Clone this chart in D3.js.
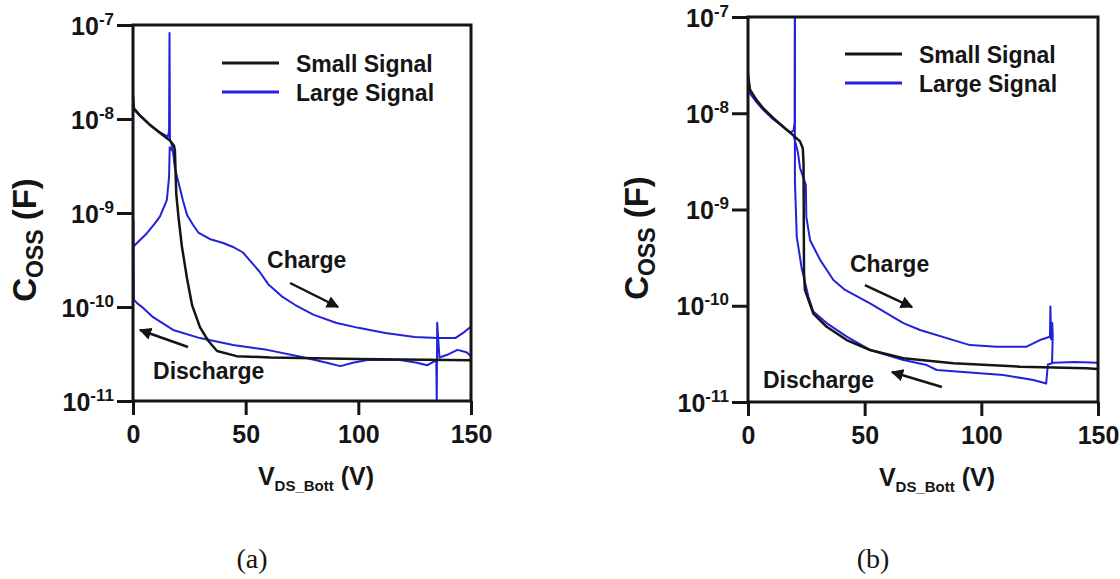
<!DOCTYPE html>
<html>
<head>
<meta charset="utf-8">
<script src="https://cdn.jsdelivr.net/npm/d3@7"></script>
<style>
  body { margin: 0; background: #fff; }
  svg text { font-family: "Liberation Sans", Arial, Helvetica, sans-serif; font-weight: bold; fill: #151515; }
  svg text.caption { font-family: "Liberation Serif", "Times New Roman", serif; font-weight: normal; }
</style>
</head>
<body>
<div id="chart"></div>
<script>
// axis ticks shared by both panels
const xTicks = [0, 50, 100, 150];
const yTicks = [1e-11, 1e-10, 1e-9, 1e-8, 1e-7];
const yTickExp = ["-11", "-10", "-9", "-8", "-7"];
const legendLabels = ["Small Signal", "Large Signal"];

// ---- panel (a) : [V_DS, Coss] ----
const smallA = [[0, 1.8e-8], [0.4, 1.3e-8], [3, 1.1e-8], [7.5, 8.7e-9], [12, 7.1e-9], [16.4, 5.9e-9],
  [18.2, 5.2e-9], [18.6, 4.6e-9], [19.2, 1.6e-9], [20.2, 9e-10], [21.7, 4.4e-10], [24, 2e-10],
  [26.2, 1.05e-10], [29.7, 6.1e-11], [33.3, 4.4e-11], [37.3, 3.4e-11], [46, 3.0e-11], [61, 2.9e-11],
  [100, 2.8e-11], [150, 2.72e-11]];
const largeTopA = [[0, 1.5e-8], [0.5, 1.25e-8], [3, 1.08e-8], [7.5, 8.6e-9], [12, 7.2e-9], [15.5, 6.5e-9],
  [16, 7.5e-9], [16.2, 8.2e-8], [16.4, 6e-9], [17, 5.5e-9], [18, 4.2e-9], [18.5, 3.3e-9]];
const chargeA = [[0, 4.35e-10], [6.2, 6.1e-10], [9.8, 7.8e-10], [12, 9.2e-10], [15, 1.37e-9], [16, 2.4e-9],
  [16.3, 5e-9], [17.8, 4.5e-9], [18.6, 3e-9], [20, 2.2e-9], [22.2, 1.35e-9], [24, 9.5e-10], [26.6, 7.5e-10],
  [29, 6.2e-10], [34, 5.3e-10], [40, 4.8e-10], [44.4, 4.35e-10], [48.8, 3.8e-10], [52, 3.1e-10],
  [56, 2.4e-10], [60, 1.75e-10], [66, 1.3e-10], [72, 1.05e-10], [80, 8.3e-11], [90, 6.8e-11],
  [100, 6e-11], [112, 5.3e-11], [125, 4.8e-11], [135, 4.67e-11], [143, 4.67e-11], [146.5, 5.3e-11],
  [150, 6.2e-11]];
const dischargeA = [[150, 3.0e-11], [148, 3.3e-11], [144, 3.5e-11], [139.4, 3.1e-11], [136, 2.9e-11],
  [135, 6.8e-11], [134.8, 1e-11], [134.6, 2.7e-11], [130.5, 2.4e-11], [126, 2.55e-11], [118.5, 2.73e-11],
  [104, 2.73e-11], [97.6, 2.55e-11], [92, 2.35e-11], [86, 2.55e-11], [75, 2.94e-11], [59.5, 3.5e-11],
  [44.4, 3.95e-11], [29.7, 4.67e-11], [17.8, 5.7e-11], [8.9, 7.8e-11], [4.4, 9.8e-11], [1.8, 1.1e-10],
  [0.4, 1.2e-10], [0.2, 8.4e-10], [0.1, 4.35e-10]];

// ---- panel (b) ----
const smallB = [[0, 2.6e-8], [0.3, 2.2e-8], [0.9, 1.75e-8], [3.7, 1.37e-8], [6.6, 1.12e-8], [10.9, 8.9e-9],
  [15.1, 7.25e-9], [19.4, 5.9e-9], [22.3, 5.1e-9], [23.5, 4.3e-9], [23.8, 3e-9], [24, 2.2e-10],
  [24.4, 1.46e-10], [25.9, 1.15e-10], [28, 8.3e-11], [33.7, 6.05e-11], [42.3, 4.4e-11], [52.3, 3.47e-11],
  [66.6, 2.85e-11], [88, 2.52e-11], [116.6, 2.33e-11], [145, 2.24e-11], [150, 2.2e-11]];
const largeTopB = [[0, 1.75e-8], [0.9, 1.6e-8], [3.7, 1.3e-8], [6.6, 1.08e-8], [10.9, 8.6e-9], [15.1, 7.2e-9],
  [18, 6.3e-9], [19.5, 6.6e-9], [20, 8e-9], [20.1, 1.2e-7]];
const chargeB = [[19.5, 6e-9], [20.3, 5e-9], [21.4, 3.9e-9], [22.3, 2.7e-9], [24.8, 1.8e-9], [25, 8.4e-10],
  [26.6, 4.8e-10], [30.9, 3e-10], [36.6, 1.85e-10], [41.6, 1.46e-10], [52.3, 1.06e-10], [66.6, 6.6e-11],
  [73.7, 5.6e-11], [95.1, 3.9e-11], [106.6, 3.76e-11], [119.4, 3.76e-11], [125.1, 4.4e-11],
  [129.4, 4.77e-11], [129.6, 9.8e-11], [129.9, 4.5e-11], [130.4, 6.6e-11], [130.6, 4.9e-11],
  [130.3, 2.5e-11]];
const dischargeB = [[150, 2.55e-11], [140, 2.6e-11], [131, 2.55e-11], [128.5, 2.45e-11], [127.8, 1.56e-11],
  [122.3, 1.69e-11], [109.4, 1.91e-11], [95.1, 2.02e-11], [80.9, 2.15e-11], [76.6, 2.42e-11],
  [66.6, 2.73e-11], [52.3, 3.47e-11], [42.3, 4.77e-11], [33.7, 6.6e-11], [28, 8.7e-11], [25.9, 1.24e-10],
  [23, 2.45e-10], [20.9, 5.2e-10], [20.1, 2e-9], [20.1, 1.2e-7]];

const blue = "#2222dd",
    ink = "#151515";

let svg = d3.select("#chart")
    .append("svg")
    .attr("width", 1120)
    .attr("height", 579);

let defs = svg.append("defs");
defs.append("marker")
    .attr("id", "arrow")
    .attr("viewBox", "0 0 10 10")
    .attr("refX", 9).attr("refY", 5)
    .attr("markerWidth", 5).attr("markerHeight", 5)
    .attr("orient", "auto")
    .append("path")
    .attr("d", "M0,0 L10,5 L0,10 z")
    .attr("fill", ink);

function drawPanel(p) {
    let x = d3.scaleLinear().domain([0, 150]).range([p.left, p.right]);
    let y = d3.scaleLog().domain([1e-11, 1e-7]).range([p.bottom, p.top]);
    let g = svg.append("g");

    defs.append("clipPath").attr("id", "clip" + p.id)
        .append("rect")
        .attr("x", p.left).attr("y", p.top)
        .attr("width", p.right - p.left).attr("height", p.bottom - p.top);

    let line = d3.line().x(d => x(d[0])).y(d => y(d[1]));
    let plot = g.append("g").attr("clip-path", "url(#clip" + p.id + ")");

    // blue first, black on top
    p.large.forEach(s => {
        plot.append("path").datum(s)
            .attr("d", line)
            .attr("fill", "none")
            .attr("stroke", blue)
            .attr("stroke-width", 2)
            .attr("stroke-linejoin", "round");
    });
    plot.append("path").datum(p.small)
        .attr("d", line)
        .attr("fill", "none")
        .attr("stroke", ink)
        .attr("stroke-width", 2.5)
        .attr("stroke-linejoin", "round");

    // frame
    g.append("rect")
        .attr("x", p.left).attr("y", p.top)
        .attr("width", p.right - p.left).attr("height", p.bottom - p.top)
        .attr("fill", "none")
        .attr("stroke", ink)
        .attr("stroke-width", 3);

    // y axis
    let yAxis = g.append("g")
        .attr("transform", "translate(" + p.left + ",0)")
        .call(d3.axisLeft(y).tickValues(yTicks).tickSize(16).tickFormat(""));
    yAxis.select(".domain").remove();
    yAxis.selectAll(".tick line").attr("stroke", ink).attr("stroke-width", 3);
    yAxis.selectAll(".tick text").remove();
    let yl = yAxis.selectAll(".tick").append("text")
        .attr("x", -19).attr("y", 9)
        .attr("text-anchor", "end");
    yl.append("tspan").attr("font-size", 25).text("10");
    yl.append("tspan").attr("font-size", 17).attr("dy", -10)
        .text((d, i) => yTickExp[i]);

    // x axis
    let xAxis = g.append("g")
        .attr("transform", "translate(0," + p.bottom + ")")
        .call(d3.axisBottom(x).tickValues(xTicks).tickSize(14).tickFormat(""));
    xAxis.select(".domain").remove();
    xAxis.selectAll(".tick line").attr("stroke", ink).attr("stroke-width", 3);
    xAxis.selectAll(".tick text").remove();
    xAxis.selectAll(".tick").append("text")
        .attr("y", 42)
        .attr("text-anchor", "middle")
        .attr("font-size", 25)
        .text(d => d);

    // axis titles
    let xt = g.append("text")
        .attr("x", (p.left + p.right) / 2 + 14)
        .attr("y", p.bottom + 84)
        .attr("text-anchor", "middle");
    xt.append("tspan").attr("font-size", 25).text("V");
    xt.append("tspan").attr("font-size", 15).attr("dy", 6).text("DS_Bott");
    xt.append("tspan").attr("font-size", 25).attr("dy", -6).text(" (V)");

    let yt = g.append("text")
        .attr("transform", "translate(" + p.ytX + "," + p.ytY + ") rotate(-90)")
        .attr("text-anchor", "middle");
    yt.append("tspan").attr("font-size", 33).text("C");
    yt.append("tspan").attr("font-size", 23).attr("dy", 7).text("OSS");
    yt.append("tspan").attr("font-size", 33).attr("dy", -7).text(" (F)");

    // legend
    [ink, blue].forEach((c, i) => {
        g.append("line")
            .attr("x1", p.left + p.legX).attr("x2", p.left + p.legX + 57)
            .attr("y1", p.top + p.legY + i * 29).attr("y2", p.top + p.legY + i * 29)
            .attr("stroke", c)
            .attr("stroke-width", 3);
        g.append("text")
            .attr("x", p.left + p.legX + 74)
            .attr("y", p.top + p.legY + 9 + i * 29)
            .attr("font-size", 23)
            .text(legendLabels[i]);
    });

    // annotations (data coordinates)
    p.notes.forEach(n => {
        g.append("text")
            .attr("x", x(n.at[0])).attr("y", y(n.at[1]))
            .attr("font-size", 23)
            .text(n.text);
        g.append("line")
            .attr("x1", x(n.from[0])).attr("y1", y(n.from[1]))
            .attr("x2", x(n.to[0])).attr("y2", y(n.to[1]))
            .attr("stroke", ink)
            .attr("stroke-width", 2.5)
            .attr("marker-end", "url(#arrow)");
    });

    svg.append("text")
        .attr("class", "caption")
        .attr("x", p.capX).attr("y", 568)
        .attr("text-anchor", "middle")
        .attr("font-size", 28)
        .text(p.caption);
}

drawPanel({
    id: "a", left: 133, right: 471, top: 25, bottom: 401,
    small: smallA, large: [chargeA, dischargeA, largeTopA],
    ytX: 36, ytY: 240, legX: 89, legY: 38,
    notes: [
        { text: "Charge", at: [59.5, 2.6e-10], from: [69.7, 1.8e-10], to: [91, 1e-10] },
        { text: "Discharge", at: [8.9, 1.71e-11], from: [24.4, 3.75e-11], to: [3.1, 5.7e-11] }
    ],
    caption: "(a)", capX: 252
});

drawPanel({
    id: "b", left: 748, right: 1098, top: 17, bottom: 402,
    small: smallB, large: [chargeB, dischargeB, largeTopB],
    ytX: 648, ytY: 238, legX: 97, legY: 37,
    notes: [
        { text: "Charge", at: [43.7, 2.25e-10], from: [50.1, 1.64e-10], to: [70.3, 9.7e-11] },
        { text: "Discharge", at: [6.4, 1.4e-11], from: [83.1, 1.43e-11], to: [61.7, 2.05e-11] }
    ],
    caption: "(b)", capX: 873
});
</script>
</body>
</html>
